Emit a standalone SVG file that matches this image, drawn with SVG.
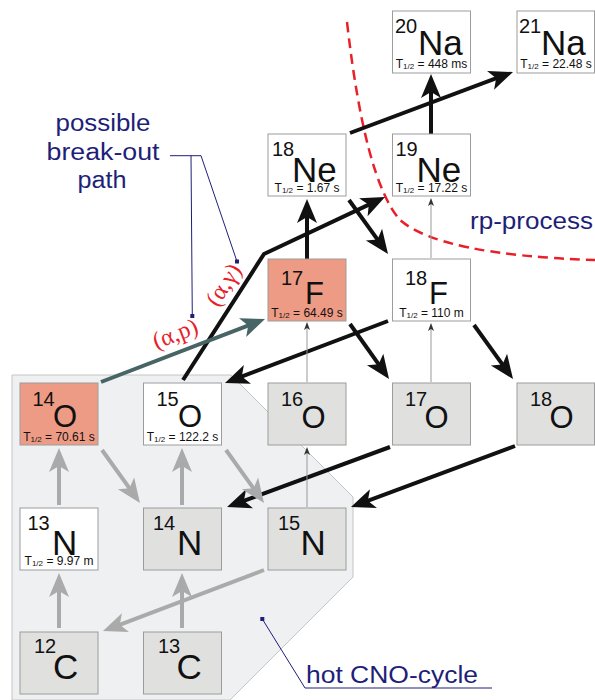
<svg xmlns="http://www.w3.org/2000/svg" width="595" height="700" viewBox="0 0 595 700">
<defs>
<style>
.bw{fill:#ffffff;stroke:#9c9c9c;stroke-width:1}
.bg{fill:#e0e0df;stroke:#9c9c9c;stroke-width:1}
.bs{fill:#ee9b85;stroke:#9c9c9c;stroke-width:1}
.m{font-family:"Liberation Sans",Arial,sans-serif;font-size:20px;fill:#111}
.s{font-family:"Liberation Sans",Arial,sans-serif;font-size:35px;fill:#111}
.so{font-family:"Liberation Sans",Arial,sans-serif;font-size:31px;fill:#111}
.sf{font-family:"Liberation Sans",Arial,sans-serif;font-size:31px;fill:#111}
.t{font-family:"Liberation Sans",Arial,sans-serif;font-size:12px;fill:#111;text-anchor:middle}
.sub{font-size:8px}
.blk{fill:none;stroke:#111;stroke-width:4;marker-end:url(#ab)}
.gry{fill:none;stroke:#aaaaaa;stroke-width:4;marker-end:url(#ag)}
.thn{fill:none;stroke:#999;stroke-width:1;marker-end:url(#at)}
.lbl{font-family:"Liberation Sans",Arial,sans-serif;font-size:23px;fill:#1f1f78}
.rx{font-family:"Liberation Serif","Times New Roman",serif;font-size:24px;fill:#e8202a}
.lead{fill:none;stroke:#1f1f78;stroke-width:1}
</style>
<marker id="ab" markerUnits="userSpaceOnUse" markerWidth="30" markerHeight="30" viewBox="-15 -15 30 30" refX="0" refY="0" orient="auto" overflow="visible"><path d="M12,0 L-12,-10 L-6,0 L-12,10 Z" fill="#111"/></marker>
<marker id="ag" markerUnits="userSpaceOnUse" markerWidth="30" markerHeight="30" viewBox="-15 -15 30 30" refX="0" refY="0" orient="auto" overflow="visible"><path d="M12,0 L-12,-10 L-6,0 L-12,10 Z" fill="#aaaaaa"/></marker>
<marker id="ac" markerUnits="userSpaceOnUse" markerWidth="30" markerHeight="30" viewBox="-15 -15 30 30" refX="0" refY="0" orient="auto" overflow="visible"><path d="M12,0 L-12,-10 L-6,0 L-12,10 Z" fill="#476565"/></marker>
<marker id="at" markerUnits="userSpaceOnUse" markerWidth="12" markerHeight="12" viewBox="-6 -6 12 12" refX="0" refY="0" orient="auto" overflow="visible"><path d="M6,0 L-2,-3 L0,0 L-2,3 Z" fill="#333"/></marker>
</defs>

<rect width="595" height="700" fill="#ffffff"/>

<g id="cno-region">
<polygon points="12,375 231,375 353,497 353,577 230,700 12,700" fill="#eff0f2" stroke="#c4c4c4" stroke-width="1"/>
</g>

<g id="rp-boundary">
<path d="M347,22 Q365,180 400,220 Q440,255 595,260" fill="none" stroke="#e8202a" stroke-width="2.5" stroke-dasharray="10,6"/>
</g>

<g id="connectors">
<line class="blk" x1="350" y1="133" x2="501.8" y2="76.2"/>
<line class="blk" x1="431" y1="134" x2="431" y2="86"/>
<line class="blk" x1="307" y1="259" x2="307" y2="211"/>
<line class="blk" x1="349" y1="200" x2="381" y2="244.3"/>
<polyline class="blk" points="183,380 264,254 374.2,202.1"/>
<line class="blk" x1="388" y1="321" x2="236.2" y2="378.7"/>
<line class="blk" x1="350" y1="324" x2="382.1" y2="369.2"/>
<line class="blk" x1="474" y1="325" x2="506" y2="369.3"/>
<line class="blk" x1="390" y1="447" x2="238.3" y2="502.9"/>
<line class="blk" x1="515" y1="446" x2="362.2" y2="502.8"/>
<line fill="none" stroke="#476565" stroke-width="4" marker-end="url(#ac)" x1="101" y1="382" x2="253.8" y2="323.3"/>
<line class="gry" x1="59" y1="505" x2="59" y2="460"/>
<line class="gry" x1="102" y1="450" x2="133" y2="493.2"/>
<line class="gry" x1="182" y1="505" x2="182" y2="460"/>
<line class="gry" x1="226" y1="450" x2="257" y2="493.2"/>
<line class="gry" x1="59" y1="628" x2="59" y2="585"/>
<line class="gry" x1="182" y1="628" x2="182" y2="585"/>
<line class="gry" x1="264" y1="570" x2="114.2" y2="626.8"/>
<line class="thn" x1="307" y1="507" x2="307" y2="453"/>
<line class="thn" x1="307" y1="382" x2="307" y2="328"/>
<line class="thn" x1="431" y1="382" x2="431" y2="329"/>
<line class="thn" x1="431" y1="258" x2="431" y2="204"/>
</g>

<g id="Na20"><rect class="bw" x="392.5" y="11" width="78" height="62"/><text class="m" x="395" y="33">20</text><text class="s" x="418" y="55">Na</text><text class="t" x="431.5" y="68">T<tspan class="sub" dy="1">1/2</tspan><tspan dy="-1"> = 448 ms</tspan></text></g>
<g id="Na21"><rect class="bw" x="517" y="11" width="77.5" height="62"/><text class="m" x="519" y="33">21</text><text class="s" x="541" y="55">Na</text><text class="t" x="556" y="68">T<tspan class="sub" dy="1">1/2</tspan><tspan dy="-1"> = 22.48 s</tspan></text></g>
<g id="Ne18"><rect class="bw" x="268" y="134" width="78" height="62"/><text class="m" x="272" y="156">18</text><text class="s" x="292" y="182">Ne</text><text class="t" x="307" y="192">T<tspan class="sub" dy="1">1/2</tspan><tspan dy="-1"> = 1.67 s</tspan></text></g>
<g id="Ne19"><rect class="bw" x="392.5" y="134" width="78" height="62"/><text class="m" x="395.5" y="156">19</text><text class="s" x="416.5" y="182">Ne</text><text class="t" x="431.5" y="192">T<tspan class="sub" dy="1">1/2</tspan><tspan dy="-1"> = 17.22 s</tspan></text></g>
<g id="F17"><rect class="bs" x="268" y="259" width="78" height="62"/><text class="m" x="281" y="285">17</text><text class="sf" x="305" y="304">F</text><text class="t" x="307" y="317">T<tspan class="sub" dy="1">1/2</tspan><tspan dy="-1"> = 64.49 s</tspan></text></g>
<g id="F18"><rect class="bw" x="392.5" y="259" width="78" height="62"/><text class="m" x="405" y="285">18</text><text class="sf" x="429" y="304">F</text><text class="t" x="431.5" y="317">T<tspan class="sub" dy="1">1/2</tspan><tspan dy="-1"> = 110 m</tspan></text></g>
<g id="O14"><rect class="bs" x="20" y="383" width="78" height="62"/><text class="m" x="32.5" y="406">14</text><text class="so" x="53" y="427">O</text><text class="t" x="59" y="441">T<tspan class="sub" dy="1">1/2</tspan><tspan dy="-1"> = 70.61 s</tspan></text></g>
<g id="O15"><rect class="bw" x="143.5" y="383" width="78" height="62"/><text class="m" x="156.5" y="406">15</text><text class="so" x="178" y="427">O</text><text class="t" x="182.5" y="441">T<tspan class="sub" dy="1">1/2</tspan><tspan dy="-1"> = 122.2 s</tspan></text></g>
<g id="O16"><rect class="bg" x="268" y="383" width="78" height="62"/><text class="m" x="281" y="406">16</text><text class="so" x="301.5" y="428">O</text></g>
<g id="O17"><rect class="bg" x="392.5" y="383" width="78" height="62"/><text class="m" x="405" y="406">17</text><text class="so" x="424.5" y="428">O</text></g>
<g id="O18"><rect class="bg" x="517" y="383" width="77.5" height="62"/><text class="m" x="530" y="406">18</text><text class="so" x="549.5" y="428">O</text></g>
<g id="N13"><rect class="bw" x="20" y="508" width="78" height="62"/><text class="m" x="27.5" y="530">13</text><text class="s" x="52" y="555">N</text><text class="t" x="59" y="565">T<tspan class="sub" dy="1">1/2</tspan><tspan dy="-1"> = 9.97 m</tspan></text></g>
<g id="N14"><rect class="bg" x="143.5" y="508" width="78" height="62"/><text class="m" x="153" y="530">14</text><text class="s" x="177" y="555">N</text></g>
<g id="N15"><rect class="bg" x="268" y="508" width="78" height="62"/><text class="m" x="278" y="530">15</text><text class="s" x="300.5" y="555">N</text></g>
<g id="C12"><rect class="bg" x="20" y="632" width="78" height="62"/><text class="m" x="34" y="653">12</text><text class="s" x="53" y="679">C</text></g>
<g id="C13"><rect class="bg" x="143.5" y="632" width="78" height="62"/><text class="m" x="158" y="653">13</text><text class="s" x="176.5" y="679">C</text></g>

<g id="label-breakout">
<text class="lbl" x="103" y="131" text-anchor="middle" textLength="95" lengthAdjust="spacingAndGlyphs">possible</text>
<text class="lbl" x="103" y="160" text-anchor="middle" textLength="113" lengthAdjust="spacingAndGlyphs">break-out</text>
<text class="lbl" x="102" y="188" text-anchor="middle" textLength="49" lengthAdjust="spacingAndGlyphs">path</text>
<polyline class="lead" points="170,155.7 201,155.7 237,261.5"/>
<polyline class="lead" points="191,155.7 192.3,316"/>
<rect x="235" y="259.5" width="4" height="4" fill="#1f1f78"/>
<rect x="190.3" y="314" width="4" height="4" fill="#1f1f78"/>
</g>

<g id="label-rp">
<text class="lbl" x="470" y="229" textLength="123" lengthAdjust="spacingAndGlyphs">rp-process</text>
</g>

<g id="label-cno">
<text class="lbl" x="306" y="683" textLength="172" lengthAdjust="spacingAndGlyphs">hot CNO-cycle</text>
<polyline class="lead" points="262.3,619 305,688 492,688"/>
<rect x="260.3" y="617" width="4" height="4" fill="#1f1f78"/>
</g>

<g id="reaction-labels">
<text class="rx" x="0" y="0" text-anchor="middle" transform="translate(178,341) rotate(-21)">(α,p)</text>
<text class="rx" x="0" y="0" text-anchor="middle" transform="translate(230,289) rotate(-57)">(α,γ)</text>
</g>
</svg>
